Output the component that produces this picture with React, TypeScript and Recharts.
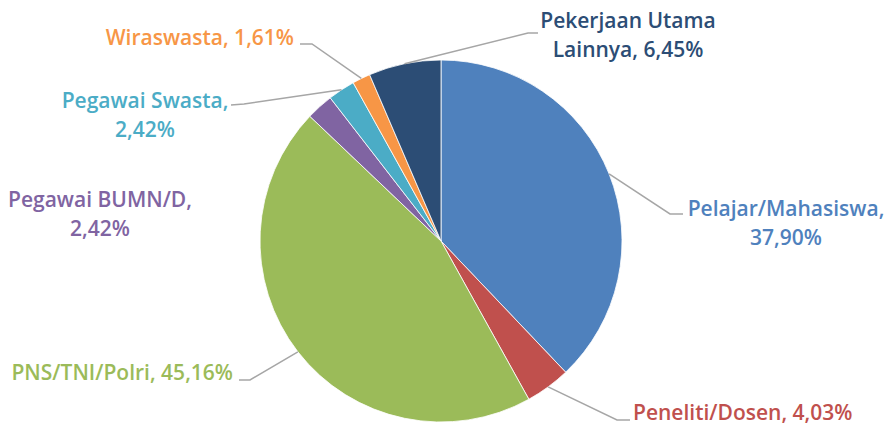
import { PieChart, Pie, Cell } from "recharts";

const NAMES = [
  "Pelajar/Mahasiswa",
  "Peneliti/Dosen",
  "PNS/TNI/Polri",
  "Pegawai BUMN/D",
  "Pegawai Swasta",
  "Wiraswasta",
  "Pekerjaan Utama Lainnya",
];
const SHARES = [37.9, 4.03, 45.16, 2.42, 2.42, 1.61, 6.45];
const COLORS = ["#4F81BD", "#C0504D", "#9BBB59", "#8064A2", "#4BACC6", "#F79646", "#2C4D75"];

const data = NAMES.map((name, i) => ({ name, value: SHARES[i] }));

// label placement (text + leader line bend points)
type Layout = {
  x: number;
  y: number;
  anchor: "start" | "middle" | "end";
  breakAt?: number;
  line?: [number, number][];
};
const LAYOUT: Layout[] = [
  { x: 786, y: 216, anchor: "middle", breakAt: 1, line: [[670, 214], [683, 214]] },
  { x: 633, y: 420, anchor: "start", line: [[617, 420], [630, 420]] },
  { x: 233, y: 380, anchor: "end", line: [[250, 380], [239, 380]] },
  { x: 100, y: 207, anchor: "middle", breakAt: 2 },
  { x: 145, y: 108, anchor: "middle", breakAt: 2, line: [[244, 104], [231, 105]] },
  { x: 294, y: 45, anchor: "end", line: [[312, 44], [300, 44]] },
  { x: 628, y: 28, anchor: "middle", breakAt: 2, line: [[528, 33], [538, 33]] },
];

const RAD = Math.PI / 180;
const fmt = (v: number) => v.toFixed(2).replace(".", ",") + "%";

function renderLabel(props: any) {
  const { cx, cy, midAngle, outerRadius, index } = props;
  const lay = LAYOUT[index];
  const words = `${NAMES[index]}, ${fmt(SHARES[index])}`.split(" ");
  const lines = lay.breakAt
    ? [words.slice(0, lay.breakAt).join(" "), words.slice(lay.breakAt).join(" ")]
    : [words.join(" ")];
  const px = cx + outerRadius * Math.cos(-midAngle * RAD);
  const py = cy + outerRadius * Math.sin(-midAngle * RAD);
  return (
    <g key={`lbl-${index}`}>
      {lay.line && (
        <polyline
          points={[[px, py], ...lay.line].map((p) => p.join(",")).join(" ")}
          fill="none"
          stroke="#A6A6A6"
          strokeWidth={1.5}
        />
      )}
      <text
        x={lay.x}
        y={lay.y}
        textAnchor={lay.anchor}
        fill={COLORS[index]}
        fontFamily="'Open Sans', sans-serif"
        fontWeight={600}
        fontSize={21}
      >
        {lines.map((t, i) => (
          <tspan key={i} x={lay.x} dy={i === 0 ? 0 : 28.5}>
            {t}
          </tspan>
        ))}
      </text>
    </g>
  );
}

export default function App() {
  return (
    <div style={{ position: "absolute", left: 0, top: 0, width: 886, height: 426, background: "#fff" }}>
      <PieChart width={886} height={426} margin={{ top: 0, right: 0, bottom: 0, left: 0 }}>
        <Pie
          data={data}
          dataKey="value"
          nameKey="name"
          cx={441}
          cy={241}
          outerRadius={181}
          startAngle={90}
          endAngle={-270}
          stroke="#fff"
          strokeWidth={0.8}
          label={renderLabel}
          labelLine={false}
          isAnimationActive={false}
        >
          {data.map((d, i) => (
            <Cell key={d.name} fill={COLORS[i]} />
          ))}
        </Pie>
      </PieChart>
    </div>
  );
}
